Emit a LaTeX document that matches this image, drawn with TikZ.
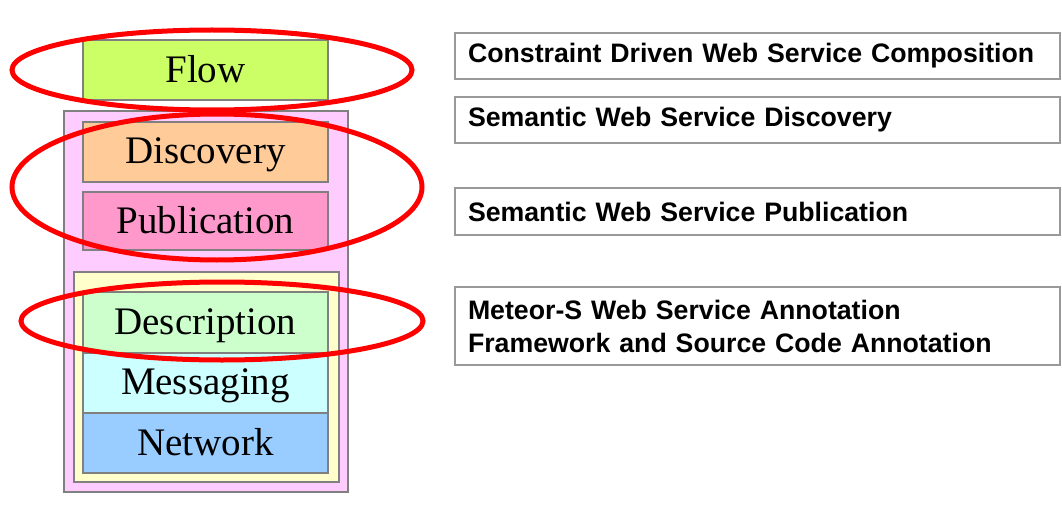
\documentclass[tikz,border=0pt]{standalone}
\usepackage{fontspec}
\setmainfont{Liberation Serif}
\newfontfamily\boxfont{Liberation Sans}

\definecolor{flowgreen}{RGB}{204,255,102}
\definecolor{discpeach}{RGB}{255,204,153}
\definecolor{pubpink}{RGB}{255,153,204}
\definecolor{stackpink}{RGB}{255,204,255}
\definecolor{stackyellow}{RGB}{255,255,204}
\definecolor{descgreen}{RGB}{204,255,204}
\definecolor{msgcyan}{RGB}{204,255,255}
\definecolor{netblue}{RGB}{153,204,255}

\tikzset{
	layer/.style={draw=gray, line width=1.5pt, minimum width=245pt,
		minimum height=60pt, inner sep=0pt, text depth=2pt,
		font=\fontsize{39}{44}\selectfont},
	infobox/.style={draw=gray!80, line width=1.5pt, minimum width=605pt,
		text width=579pt, inner xsep=13pt, align=left,
		font=\boxfont\bfseries\fontsize{26.7}{33}\selectfont},
	ring/.style={draw=red, line width=5pt}
}

\begin{document}
\begin{tikzpicture}[x=1pt, y=-1pt]
			\useasboundingbox[fill=white] (0,0) rectangle (1062,508);
			% protocol stack
			\draw[gray, line width=1.5pt, fill=stackpink] (64,111) rectangle (348,492);
			\draw[gray, line width=1.5pt, fill=stackyellow] (74,272) rectangle (339,482);
			\node[layer, fill=flowgreen] (flow) at (205.5,70) {Flow};
			\node[layer, fill=discpeach] (discovery) at (205.5,152) {Discovery};
			\node[layer, fill=pubpink, minimum height=58pt] (publication) at (205.5,221) {Publication};
			\node[layer, fill=descgreen, minimum height=61pt] (description) at (205.5,322.5) {Description};
			\node[layer, fill=msgcyan] (messaging) at (205.5,383) {Messaging};
			\node[layer, fill=netblue] (network) at (205.5,443) {Network};
			% red rings
			\draw[ring] (212,70) ellipse [x radius=200pt, y radius=40pt];
			\draw[ring] (217,187) ellipse [x radius=205pt, y radius=73pt];
			\draw[ring] (222,321) ellipse [x radius=201pt, y radius=39pt];
			% research areas
			\node[infobox, minimum height=46pt] (composition) at (757.5,56)
				{Constraint Driven Web Service Composition};
			\node[infobox, minimum height=46pt] (semdisc) at (757.5,120)
				{Semantic Web Service Discovery};
			\node[infobox, minimum height=47pt] (sempub) at (757.5,211.5)
				{Semantic Web Service Publication};
			\node[infobox, minimum height=78pt] (annotation) at (757.5,326)
				{Meteor-S Web Service Annotation\\Framework and Source Code Annotation};
		\end{tikzpicture}
\end{document}
